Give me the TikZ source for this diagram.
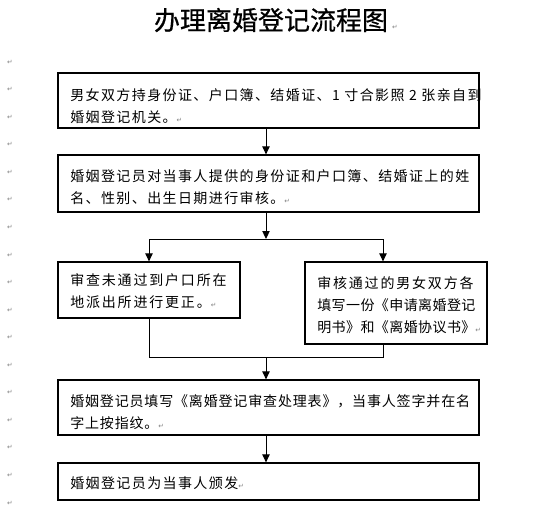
\documentclass[tikz,border=0pt]{standalone}
\usepackage{fontspec}
\newfontfamily\cjk[LetterSpace=10]{Noto Sans CJK SC}
\newfontfamily\cjknarrow[LetterSpace=6]{Noto Sans CJK SC}
\newfontfamily\cjktight[LetterSpace=3]{Noto Sans CJK SC}
\newfontfamily\cjkwide[LetterSpace=13]{Noto Sans CJK SC}
\newfontfamily\cjktitle[FakeBold=0.6]{Noto Sans CJK SC}
\newfontfamily\symfont{DejaVu Sans}
\usetikzlibrary{arrows.meta}
\newcommand\retmark{{\symfont\fontsize{5}{5}\selectfont\textcolor{gray}{↵}}}
\begin{document}
\begin{tikzpicture}[x=0.75pt,y=-0.75pt,
  box/.style={draw=black, line width=0.9pt, inner sep=0},
  txt/.style={anchor=west, inner sep=0, align=left, font=\cjk\fontsize{10.5}{16.5}\selectfont},
  arr/.style={-{Triangle[length=6pt,width=5.5pt]}, line width=0.75pt},
  ln/.style={line width=0.75pt},
  retsty/.style={inner sep=0, font=\symfont\fontsize{5}{5}\selectfont, text=gray}]
\useasboundingbox[fill=white] (0,0) rectangle (547,511);

% title
\node[inner sep=0, font=\cjktitle\fontsize{19.5}{20}\selectfont] (title) at (271,20) {办理离婚登记流程图};
\node[retsty] (tmark) at (395,27) {↵};

% left paragraph marks
\foreach \i in {0,...,16} {
  \node[retsty] (m\i) at (10,{62+27.56*\i}) {↵};
}

% boxes
\node[box, minimum width=315.75pt, minimum height=41.25pt] (b1) at (268.5,100.5) {};
\node[box, minimum width=315.75pt, minimum height=42.75pt] (b2) at (268.5,183.5) {};
\node[box, minimum width=136.5pt, minimum height=42pt] (b3) at (149,290) {};
\node[box, minimum width=136.5pt, minimum height=61.5pt] (b4) at (396,303) {};
\node[box, minimum width=315.75pt, minimum height=41.25pt] (b5) at (268.5,407.5) {};
\node[box, minimum width=315.75pt, minimum height=27.75pt] (b6) at (268.5,481.5) {};

% texts
\node[txt] (t1) at (70,106) {男女双方持身份证、户口簿、结婚证、1 寸合影照 2 张亲自到\\婚姻登记机关。\retmark};
\node[txt] (t2) at (70,187.5) {婚姻登记员对当事人提供的身份证和户口簿、结婚证上的姓\\名、性别、出生日期进行审核。\retmark};
\node[txt] (t3) at (70,291) {{\cjkwide 审查未通过到户口所在}\\{\cjkwide 地派出所进行更正。}\retmark};
\node[txt] (t4) at (317,305) {{\cjkwide 审核通过的男女双方各}\\{\cjktight 填写一份《申请离婚登记}\\{\cjktight 明书》和《离婚协议书》}\retmark};
\node[txt, font=\cjknarrow\fontsize{10.5}{16.5}\selectfont] (t5) at (70,412) {婚姻登记员填写《离婚登记审查处理表》，当事人签字并在名\\字上按指纹。\retmark};
\node[txt] (t6) at (70,483) {婚姻登记员为当事人颁发\retmark};

% connector coordinates
\coordinate (spine) at (266,0);
\coordinate (split) at (266,239);
\coordinate (lbr) at (149,239);
\coordinate (rbr) at (383,239);
\coordinate (lm) at (149,357);
\coordinate (rm) at (383,357);
\coordinate (join) at (266,357);

% connectors
\draw[arr] (b1.south -| spine) -- (b2.north -| spine);
\draw[arr] (b2.south -| spine) -- (split);
\draw[ln] (lbr) -- (rbr);
\draw[arr] (lbr) -- (b3.north -| lbr);
\draw[arr] (rbr) -- (b4.north -| rbr);
\draw[ln] (b3.south -| lbr) -- (lm) -- (rm) -- (b4.south -| rbr);
\draw[arr] (join) -- (b5.north -| spine);
\draw[arr] (b5.south -| spine) -- (b6.north -| spine);
\end{tikzpicture}
\end{document}
